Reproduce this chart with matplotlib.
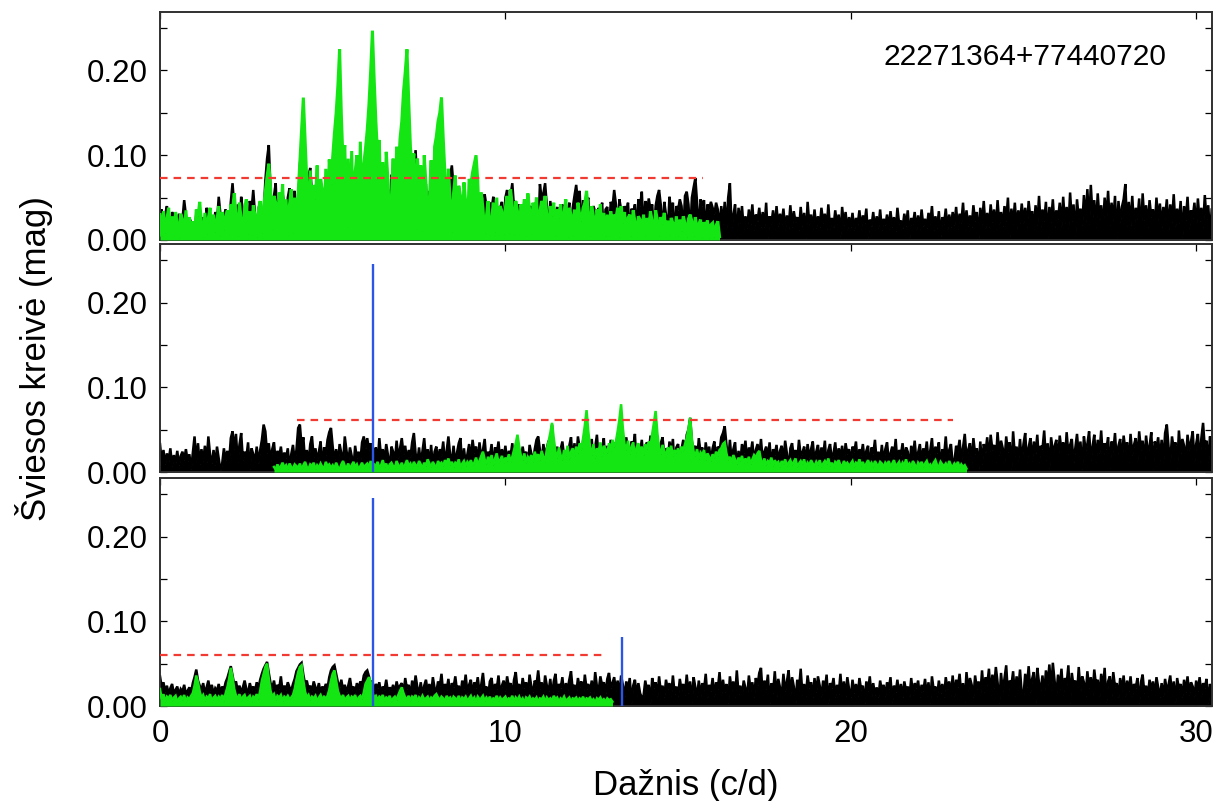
import numpy as np
import matplotlib.pyplot as plt
from matplotlib.ticker import MultipleLocator, FormatStrFormatter

plt.rcParams['font.family'] = ['Liberation Sans', 'DejaVu Sans']

# amplitude spectra, one value every 0.05 c/d, in units of 0.001 mag
step = 0.05
fmax = 30.46

# original light curve (black) and its spectral window (green)
top_black = [
    28, 36, 8, 30, 40, 12, 5, 33, 26, 6, 20, 31, 9, 24, 47, 29, 7, 26, 21, 4,
    9, 30, 12, 35, 8, 27, 5, 38, 25, 7, 29, 10, 33, 21, 51, 30, 6, 28, 36, 8,
    14, 45, 67, 38, 10, 42, 8, 51, 33, 9, 40, 15, 46, 35, 59, 30, 7, 37, 44, 12,
    30, 70, 96, 112, 60, 20, 52, 67, 14, 48, 12, 55, 41, 10, 50, 61, 16, 47, 58, 18,
    40, 88, 114, 96, 70, 24, 76, 85, 54, 15, 60, 48, 12, 58, 44, 10, 52, 66, 18, 57,
    72, 104, 133, 110, 80, 22, 78, 87, 20, 70, 14, 62, 45, 16, 68, 60, 12, 57, 74, 25,
    70, 98, 85, 92, 80, 25, 76, 58, 15, 65, 52, 12, 60, 18, 77, 55, 10, 62, 20, 66,
    24, 74, 82, 90, 70, 18, 52, 78, 106, 64, 14, 56, 11, 62, 66, 16, 58, 13, 36, 55,
    20, 72, 80, 68, 14, 60, 12, 58, 75, 88, 62, 15, 40, 57, 10, 36, 52, 9, 30, 46,
    12, 59, 48, 80, 55, 10, 46, 8, 54, 40, 7, 44, 36, 51, 9, 42, 6, 38, 45, 8,
    50, 59, 9, 52, 67, 38, 46, 7, 42, 35, 6, 38, 44, 8, 36, 40, 5, 33, 41, 7,
    66, 48, 55, 67, 40, 8, 46, 28, 6, 30, 39, 5, 35, 42, 7, 36, 30, 44, 6, 38,
    52, 65, 44, 58, 8, 47, 30, 42, 50, 7, 28, 40, 33, 5, 38, 30, 44, 6, 36, 39,
    7, 45, 38, 59, 42, 8, 48, 36, 5, 40, 33, 44, 6, 37, 31, 42, 9, 48, 40, 57,
    8, 46, 30, 49, 36, 42, 6, 40, 52, 59, 41, 9, 45, 30, 7, 51, 33, 44, 5, 40,
    35, 48, 40, 8, 52, 57, 42, 7, 50, 62, 73, 44, 9, 48, 40, 47, 6, 42, 36, 45,
    38, 30, 44, 36, 14, 40, 18, 45, 12, 50, 67, 15, 29, 42, 3, 38, 20, 40, 13, 28,
    14, 36, 18, 42, 11, 30, 22, 38, 15, 33, 15, 44, 3, 28, 19, 35, 13, 40, 16, 31,
    19, 37, 12, 29, 14, 41, 15, 34, 21, 27, 11, 39, 16, 32, 2, 45, 18, 30, 13, 36,
    14, 28, 15, 38, 20, 31, 12, 42, 13, 26, 15, 35, 18, 30, 4, 39, 17, 33, 12, 27,
    15, 32, 11, 26, 18, 35, 13, 29, 20, 37, 3, 24, 16, 33, 12, 28, 14, 36, 11, 25,
    17, 30, 13, 34, 15, 27, 10, 38, 19, 23, 14, 31, 16, 35, 3, 26, 18, 33, 12, 29,
    12, 36, 16, 25, 14, 32, 19, 40, 11, 28, 14, 34, 4, 27, 18, 37, 13, 30, 15, 33,
    17, 39, 13, 31, 20, 44, 12, 35, 16, 29, 15, 41, 22, 33, 3, 38, 18, 46, 14, 32,
    15, 42, 21, 36, 12, 47, 18, 33, 16, 40, 22, 50, 4, 37, 19, 44, 14, 35, 20, 43,
    20, 38, 15, 46, 25, 34, 13, 41, 17, 52, 16, 36, 22, 45, 3, 39, 21, 48, 15, 35,
    24, 44, 16, 51, 20, 39, 14, 56, 22, 42, 4, 48, 25, 37, 17, 53, 22, 60, 18, 65,
    28, 47, 15, 55, 24, 41, 13, 50, 26, 58, 17, 44, 23, 52, 3, 46, 21, 39, 48, 66,
    16, 45, 17, 52, 14, 38, 24, 49, 4, 55, 23, 41, 15, 47, 27, 36, 13, 50, 24, 43,
    15, 39, 25, 48, 12, 42, 21, 54, 16, 37, 20, 46, 3, 40, 23, 51, 14, 35, 26, 44,
    13, 49, 22, 38, 15, 53, 24, 41, 4, 36]
top_green = [
    30, 4, 34, 8, 25, 38, 3, 28, 5, 33, 20, 2, 31, 24, 6, 35, 3, 27, 10, 22,
    4, 36, 28, 45, 20, 3, 32, 7, 26, 38, 5, 30, 9, 24, 40, 4, 33, 11, 28, 35,
    6, 42, 36, 55, 30, 4, 44, 25, 3, 38, 48, 7, 34, 5, 41, 29, 3, 36, 46, 8,
    40, 58, 75, 90, 62, 12, 52, 44, 6, 56, 38, 66, 9, 48, 5, 42, 60, 8, 50, 7,
    55, 92, 130, 168, 120, 70, 14, 82, 9, 65, 48, 88, 10, 72, 60, 7, 84, 12, 95, 66,
    98, 126, 150, 182, 225, 148, 90, 112, 15, 96, 11, 105, 8, 80, 100, 13, 116, 10, 90, 108,
    130, 160, 200, 247, 190, 140, 100, 118, 16, 92, 12, 104, 70, 14, 50, 96, 9, 110, 78, 120,
    140, 175, 198, 225, 165, 110, 84, 102, 13, 96, 72, 88, 10, 100, 66, 15, 48, 94, 8, 110,
    122, 140, 150, 168, 120, 78, 12, 84, 48, 9, 56, 76, 11, 64, 52, 7, 68, 44, 10, 72,
    66, 80, 90, 100, 70, 10, 56, 38, 8, 28, 46, 6, 24, 44, 9, 50, 5, 40, 34, 7,
    38, 52, 8, 60, 40, 5, 46, 34, 6, 42, 30, 48, 4, 55, 36, 7, 44, 30, 50, 5,
    34, 46, 38, 52, 30, 5, 40, 28, 44, 4, 36, 26, 42, 6, 33, 48, 3, 38, 30, 5,
    36, 5, 44, 30, 22, 38, 44, 58, 34, 4, 40, 28, 3, 36, 24, 42, 6, 32, 4, 30,
    4, 34, 18, 30, 25, 38, 3, 40, 20, 33, 5, 26, 30, 4, 35, 22, 3, 28, 24, 5,
    30, 4, 26, 12, 34, 22, 3, 35, 24, 4, 27, 19, 32, 3, 23, 5, 26, 20, 3, 28,
    4, 24, 10, 28, 20, 3, 25, 30, 22, 4, 27, 11, 19, 24, 3, 21, 15, 23, 2, 18,
    20, 3, 17, 22, 4]

# after removing the first frequency
mid_black = [
    33, 12, 26, 9, 22, 13, 28, 7, 20, 11, 25, 8, 19, 24, 14, 27, 13, 21, 3, 23,
    42, 12, 34, 9, 27, 13, 31, 11, 42, 20, 10, 26, 8, 30, 16, 2, 10, 28, 14, 25,
    12, 40, 48, 27, 45, 11, 32, 46, 14, 24, 17, 35, 3, 28, 21, 12, 30, 10, 26, 38,
    56, 48, 22, 34, 13, 27, 35, 11, 25, 18, 30, 12, 23, 16, 28, 4, 21, 32, 13, 26,
    52, 56, 30, 41, 12, 26, 10, 33, 42, 17, 28, 14, 24, 36, 3, 29, 20, 38, 47, 52,
    30, 13, 27, 10, 33, 22, 11, 42, 25, 12, 29, 19, 4, 31, 16, 24, 12, 35, 42, 28,
    40, 26, 34, 12, 22, 29, 10, 40, 18, 27, 13, 33, 20, 3, 30, 24, 11, 37, 16, 28,
    40, 21, 31, 12, 26, 17, 35, 46, 22, 11, 29, 10, 25, 40, 13, 27, 9, 32, 4, 24,
    30, 12, 27, 19, 36, 10, 25, 42, 20, 13, 31, 9, 23, 34, 40, 3, 28, 10, 21, 33,
    13, 38, 22, 30, 11, 35, 17, 26, 39, 12, 24, 18, 33, 4, 29, 21, 36, 13, 27, 16,
    31, 12, 25, 19, 34, 11, 28, 35, 20, 13, 30, 17, 24, 3, 32, 22, 12, 27, 38, 42,
    26, 12, 33, 20, 28, 37, 30, 56, 22, 13, 30, 11, 27, 36, 18, 25, 4, 31, 41, 12,
    34, 13, 42, 28, 12, 37, 45, 52, 30, 24, 39, 11, 29, 44, 14, 33, 26, 40, 3, 31,
    14, 38, 16, 35, 28, 44, 40, 51, 33, 12, 41, 25, 13, 36, 29, 45, 4, 32, 24, 38,
    12, 30, 35, 21, 43, 27, 37, 50, 26, 13, 34, 41, 20, 28, 11, 36, 23, 39, 3, 29,
    33, 12, 27, 38, 22, 44, 50, 64, 36, 25, 31, 13, 40, 23, 29, 4, 35, 20, 30, 12,
    28, 36, 13, 30, 24, 41, 46, 54, 32, 11, 38, 13, 27, 35, 3, 25, 10, 33, 22, 37,
    12, 29, 21, 36, 10, 26, 33, 18, 39, 13, 24, 30, 16, 35, 4, 27, 20, 32, 11, 25,
    31, 12, 37, 22, 3, 28, 34, 17, 26, 13, 38, 19, 23, 30, 11, 33, 16, 27, 36, 12,
    24, 32, 11, 29, 19, 37, 4, 26, 33, 15, 22, 35, 13, 28, 18, 31, 10, 34, 21, 27,
    12, 30, 23, 36, 10, 27, 19, 33, 13, 25, 31, 3, 29, 21, 38, 12, 24, 12, 32, 11,
    27, 35, 13, 22, 30, 17, 39, 10, 26, 20, 34, 12, 29, 24, 4, 31, 18, 37, 13, 23,
    33, 11, 28, 19, 36, 13, 25, 40, 12, 30, 22, 35, 3, 27, 18, 42, 13, 26, 33, 10,
    12, 31, 24, 38, 13, 29, 45, 17, 26, 34, 11, 40, 21, 28, 4, 36, 9, 33, 23, 41,
    13, 44, 26, 32, 11, 47, 20, 37, 28, 12, 42, 23, 35, 3, 48, 19, 30, 13, 39, 12,
    33, 46, 12, 29, 40, 13, 36, 22, 44, 11, 31, 27, 49, 14, 34, 4, 41, 24, 30, 38,
    13, 43, 25, 35, 12, 47, 21, 32, 39, 11, 28, 45, 19, 36, 3, 42, 26, 33, 48, 14,
    30, 44, 12, 38, 22, 49, 13, 34, 27, 41, 4, 36, 24, 46, 12, 31, 39, 13, 43, 25,
    35, 11, 45, 20, 32, 40, 13, 48, 26, 37, 12, 43, 23, 30, 47, 3, 36, 28, 41, 14,
    38, 12, 46, 56, 30, 13, 42, 27, 35, 4, 49, 22, 39, 31, 12, 44, 26, 36, 48, 13,
    33, 45, 12, 40, 58, 28, 37, 11, 42, 30]
mid_green_start = 3.3
mid_green = [
    6, 3, 9, 4, 7, 11, 5, 8, 3, 10, 6, 4, 9, 7,
    5, 10, 3, 8, 12, 6, 4, 9, 7, 11, 3, 8, 5, 10, 6, 4, 12, 7, 9, 5,
    8, 4, 11, 6, 3, 9, 13, 7, 5, 10, 4, 8, 12, 6, 9, 3, 7, 11, 5, 8,
    10, 6, 13, 4, 9, 7, 12, 5, 8, 14, 6, 10, 3, 9, 11, 7, 5, 13, 8, 6,
    11, 4, 9, 14, 7, 10, 5, 12, 8, 6, 13, 9, 4, 11, 7, 15, 10, 6, 12, 8,
    5, 13, 9, 11, 7, 14, 10, 16, 8, 12, 6, 11, 9, 15, 5, 10, 13, 7, 12, 9,
    14, 8, 11, 17, 10, 13, 19, 24, 15, 9, 18, 12, 20, 8, 16, 22, 11, 14, 19, 10,
    17, 13, 21, 12, 18, 26, 34, 44, 30, 19, 14, 22, 10, 18, 15, 20, 12, 24, 17, 21,
    14, 25, 18, 12, 27, 36, 46, 58, 40, 24, 16, 29, 20, 14, 26, 19, 31, 15, 24, 28,
    18, 30, 22, 34, 26, 40, 55, 73, 48, 30, 20, 33, 16, 28, 24, 35, 19, 31, 27, 22,
    34, 25, 38, 29, 36, 48, 62, 80, 52, 33, 26, 37, 21, 30, 35, 18, 29, 34, 24, 30,
    20, 33, 27, 36, 30, 45, 58, 72, 46, 28, 21, 32, 25, 17, 29, 24, 31, 19, 26, 22,
    28, 18, 30, 25, 33, 40, 51, 64, 39, 24, 19, 27, 15, 23, 20, 26, 14, 22, 18, 13,
    21, 16, 24, 19, 26, 28, 33, 35, 22, 14, 18, 11, 20, 15, 9, 17, 13, 19, 10, 16,
    12, 18, 9, 15, 20, 17, 22, 25, 14, 10, 16, 8, 13, 11, 17, 7, 14, 10, 12, 6,
    13, 9, 15, 7, 11, 14, 8, 12, 16, 6, 10, 13, 9, 15, 5, 11, 8, 14, 10, 7,
    12, 8, 14, 6, 10, 13, 9, 16, 7, 11, 5, 12, 10, 14, 8, 6, 13, 9, 11, 7,
    10, 13, 6, 11, 9, 15, 7, 12, 5, 10, 14, 8, 11, 6, 13, 9, 7, 12, 10, 5,
    11, 8, 13, 6, 10, 14, 7, 9, 12, 5, 11, 8, 15, 7, 10, 6, 13, 9, 4, 11,
    8, 12, 6, 10, 13, 7, 9, 5, 11, 14, 8, 6, 12, 9, 7, 10, 5, 13, 8, 6,
    10, 7, 12, 5, 9, 6, 8, 4]

# after removing both frequencies
bot_black = [
    35, 22, 28, 16, 24, 14, 21, 26, 15, 19, 23, 13, 20, 17, 25, 14, 18, 22, 16, 27,
    34, 43, 30, 24, 19, 27, 15, 22, 30, 17, 25, 14, 21, 18, 26, 15, 23, 19, 28, 33,
    40, 47, 36, 25, 29, 18, 24, 16, 22, 30, 20, 15, 27, 19, 23, 17, 28, 21, 31, 38,
    44, 48, 52, 39, 27, 21, 30, 17, 25, 20, 35, 16, 24, 19, 28, 22, 18, 26, 32, 41,
    45, 49, 51, 37, 26, 30, 20, 24, 17, 29, 22, 18, 27, 15, 23, 19, 26, 21, 34, 42,
    46, 48, 38, 28, 22, 31, 18, 25, 16, 24, 33, 19, 23, 15, 27, 20, 29, 24, 36, 40,
    42, 35, 24, 30, 17, 26, 21, 28, 14, 23, 19, 31, 16, 22, 18, 25, 13, 29, 20, 24,
    27, 14, 33, 20, 25, 11, 30, 18, 36, 22, 15, 28, 12, 24, 31, 17, 26, 13, 34, 21,
    16, 29, 23, 38, 14, 26, 19, 32, 11, 27, 22, 35, 17, 24, 13, 30, 20, 37, 15, 25,
    31, 12, 28, 21, 34, 16, 25, 39, 18, 23, 10, 29, 33, 14, 26, 20, 36, 13, 24, 30,
    17, 35, 22, 27, 12, 31, 40, 19, 26, 14, 33, 21, 28, 11, 37, 23, 16, 30, 25, 42,
    20, 28, 13, 36, 24, 17, 32, 10, 29, 38, 15, 26, 21, 34, 12, 27, 19, 31, 41, 18,
    25, 14, 33, 22, 29, 11, 37, 20, 26, 16, 30, 13, 40, 23, 18, 35, 24, 28, 15, 32,
    39, 21, 27, 34, 18, 30, 12, 36, 25, 11, 29, 19, 33, 3, 24, 31, 12, 27, 15, 10,
    12, 30, 18, 25, 3, 33, 21, 28, 11, 35, 16, 24, 10, 31, 20, 27, 12, 36, 14, 23,
    11, 32, 19, 26, 13, 37, 15, 29, 4, 34, 22, 11, 30, 12, 27, 18, 38, 10, 25, 17,
    33, 11, 28, 20, 40, 12, 31, 16, 26, 3, 35, 19, 29, 10, 42, 14, 24, 12, 30, 21,
    11, 36, 18, 28, 10, 33, 24, 39, 45, 12, 30, 20, 37, 3, 27, 15, 41, 11, 32, 22,
    10, 38, 17, 29, 42, 12, 34, 23, 4, 31, 19, 44, 13, 26, 11, 36, 21, 28, 10, 33,
    16, 35, 24, 11, 30, 19, 37, 3, 27, 21, 33, 10, 25, 14, 38, 12, 29, 11, 34, 20,
    10, 31, 15, 26, 11, 33, 19, 24, 3, 29, 17, 35, 12, 27, 13, 22, 10, 30, 18, 25,
    11, 28, 20, 34, 4, 24, 16, 31, 12, 26, 10, 29, 18, 23, 11, 33, 13, 27, 21, 30,
    10, 25, 17, 32, 12, 28, 3, 35, 19, 23, 11, 30, 15, 26, 10, 34, 20, 29, 12, 36,
    11, 31, 22, 38, 12, 27, 4, 40, 18, 33, 25, 10, 36, 20, 29, 12, 42, 16, 34, 24,
    44, 12, 37, 21, 46, 28, 3, 39, 17, 33, 48, 13, 30, 24, 41, 11, 35, 19, 43, 14,
    12, 38, 22, 47, 16, 32, 40, 4, 45, 27, 19, 36, 13, 42, 25, 49, 18, 51, 30, 12,
    37, 20, 44, 13, 33, 26, 48, 3, 39, 23, 30, 12, 46, 18, 35, 28, 11, 41, 21, 34,
    13, 43, 24, 31, 11, 38, 19, 45, 4, 29, 35, 12, 40, 22, 27, 10, 33, 18, 36, 11,
    30, 17, 35, 12, 26, 21, 33, 3, 28, 37, 15, 24, 11, 31, 19, 29, 12, 34, 22, 10,
    27, 11, 32, 18, 25, 36, 12, 29, 4, 33, 20, 26, 10, 31, 16, 35, 13, 28, 23, 11,
    30, 17, 34, 12, 27, 21, 32, 3, 26, 19]
bot_green = [
    20, 8, 14, 5, 11, 9, 13, 6, 10, 12, 4, 9, 11, 7, 13, 5, 10, 8, 12, 15,
    24, 36, 28, 17, 10, 13, 6, 11, 9, 14, 5, 10, 12, 7, 11, 8, 13, 6, 15, 22,
    32, 45, 34, 20, 12, 9, 14, 6, 11, 13, 7, 10, 12, 5, 11, 9, 14, 8, 18, 30,
    38, 46, 50, 32, 18, 11, 14, 7, 12, 10, 13, 6, 11, 9, 12, 8, 10, 13, 20, 31,
    40, 46, 48, 30, 17, 10, 13, 7, 11, 9, 12, 5, 10, 13, 8, 11, 9, 12, 19, 30,
    38, 42, 30, 18, 12, 9, 13, 6, 10, 12, 7, 11, 9, 13, 5, 10, 12, 8, 16, 26,
    30, 34, 28, 16, 10, 12, 7, 11, 9, 13, 6, 10, 8, 12, 5, 9, 11, 7, 13, 18,
    22, 15, 10, 8, 12, 6, 11, 9, 13, 5, 10, 7, 12, 8, 9, 11, 6, 10, 8, 12,
    14, 10, 7, 11, 9, 5, 12, 8, 10, 6, 11, 9, 7, 12, 5, 10, 8, 11, 6, 9,
    12, 7, 10, 5, 11, 8, 9, 12, 6, 10, 7, 11, 5, 9, 8, 12, 6, 10, 7, 9,
    11, 6, 9, 8, 12, 5, 10, 7, 11, 6, 9, 4, 10, 8, 11, 6, 9, 7, 10, 5,
    9, 8, 11, 5, 10, 7, 9, 6, 12, 8, 10, 5, 9, 7, 11, 6, 8, 10, 5, 9,
    8, 10, 6, 9, 7, 11, 5, 9, 8, 10, 6, 8, 4, 9, 7, 10, 6, 8, 5, 9,
    7, 8, 5]

# significance level: start, end, amplitude (mag)
top_sig = (0.0, 15.73, 0.073)
mid_sig = (3.96, 22.97, 0.061)
bot_sig = (0.0, 12.93, 0.060)

# frequencies already removed (c/d) and their amplitudes (mag)
f1, a1 = 6.16, 0.246
f2, a2 = 13.37, 0.081

star = '22271364+77440720'

black = 'black'
green = '#14e614'
red = '#f03a32'
blue = '#2a55e6'


def freqs(vals, start=0.0):
    return start + step * np.arange(len(vals))


def mag(vals):
    return np.asarray(vals) / 1000.0


def spectrum(ax, f, a, color, z, lw=1.8):
    # dense periodogram: the area under the curve is inked as well
    ax.fill_between(f, 0, a, color=color, lw=0, zorder=z)
    ax.plot(f, a, color=color, lw=lw, zorder=z, solid_joinstyle='miter')


fig = plt.figure(figsize=(12.14, 8.01), dpi=100)
left, width, height = 0.1318, 0.8666, 0.2846
ax1 = fig.add_axes([left, 0.7004, width, height])
ax2 = fig.add_axes([left, 0.4107, width, height])
ax3 = fig.add_axes([left, 0.1186, width, height])

# axis, black, green, green start, green line width, level, removed lines
panels = [
    (ax1, top_black, top_green, 0.0, 2.2, top_sig, []),
    (ax2, mid_black, mid_green, mid_green_start, 1.8, mid_sig, [(f1, a1)]),
    (ax3, bot_black, bot_green, 0.0, 1.8, bot_sig, [(f1, a1), (f2, a2)]),
]

for ax, blk, grn, g0, glw, sig, removed in panels:
    spectrum(ax, freqs(blk), mag(blk), black, 2)
    spectrum(ax, freqs(grn, g0), mag(grn), green, 3, lw=glw)
    ax.hlines(sig[2], sig[0], sig[1], colors=red, linestyles=(0, (3.4, 2.7)),
              lw=1.6, zorder=4)
    for f, a in removed:
        ax.vlines(f, 0, a, colors=blue, lw=1.7, zorder=5)

    ax.set_xlim(0, fmax)
    ax.set_ylim(0, 0.269)
    ax.xaxis.set_major_locator(MultipleLocator(10))
    ax.yaxis.set_major_locator(MultipleLocator(0.1))
    ax.yaxis.set_minor_locator(MultipleLocator(0.05))
    ax.yaxis.set_major_formatter(FormatStrFormatter('%.2f'))
    ax.tick_params(which='both', direction='in', top=True, right=True,
                   length=5, width=0.9, labelsize=22.5, pad=9)
    for s in ax.spines.values():
        s.set_linewidth(1.4)
        s.set_color('#303030')

ax1.tick_params(labelbottom=False)
ax2.tick_params(labelbottom=False)

ax1.text(0.822, 0.803, star, transform=ax1.transAxes, ha='center',
         va='center', fontsize=21.5)

fig.text(0.565, 0.0075, 'Dažnis (c/d)', ha='center', va='baseline', fontsize=25)
fig.text(0.028, 0.552, 'Šviesos kreivė (mag)', rotation=90, ha='center',
         va='center', fontsize=25)

plt.savefig('out.png', dpi=100)
